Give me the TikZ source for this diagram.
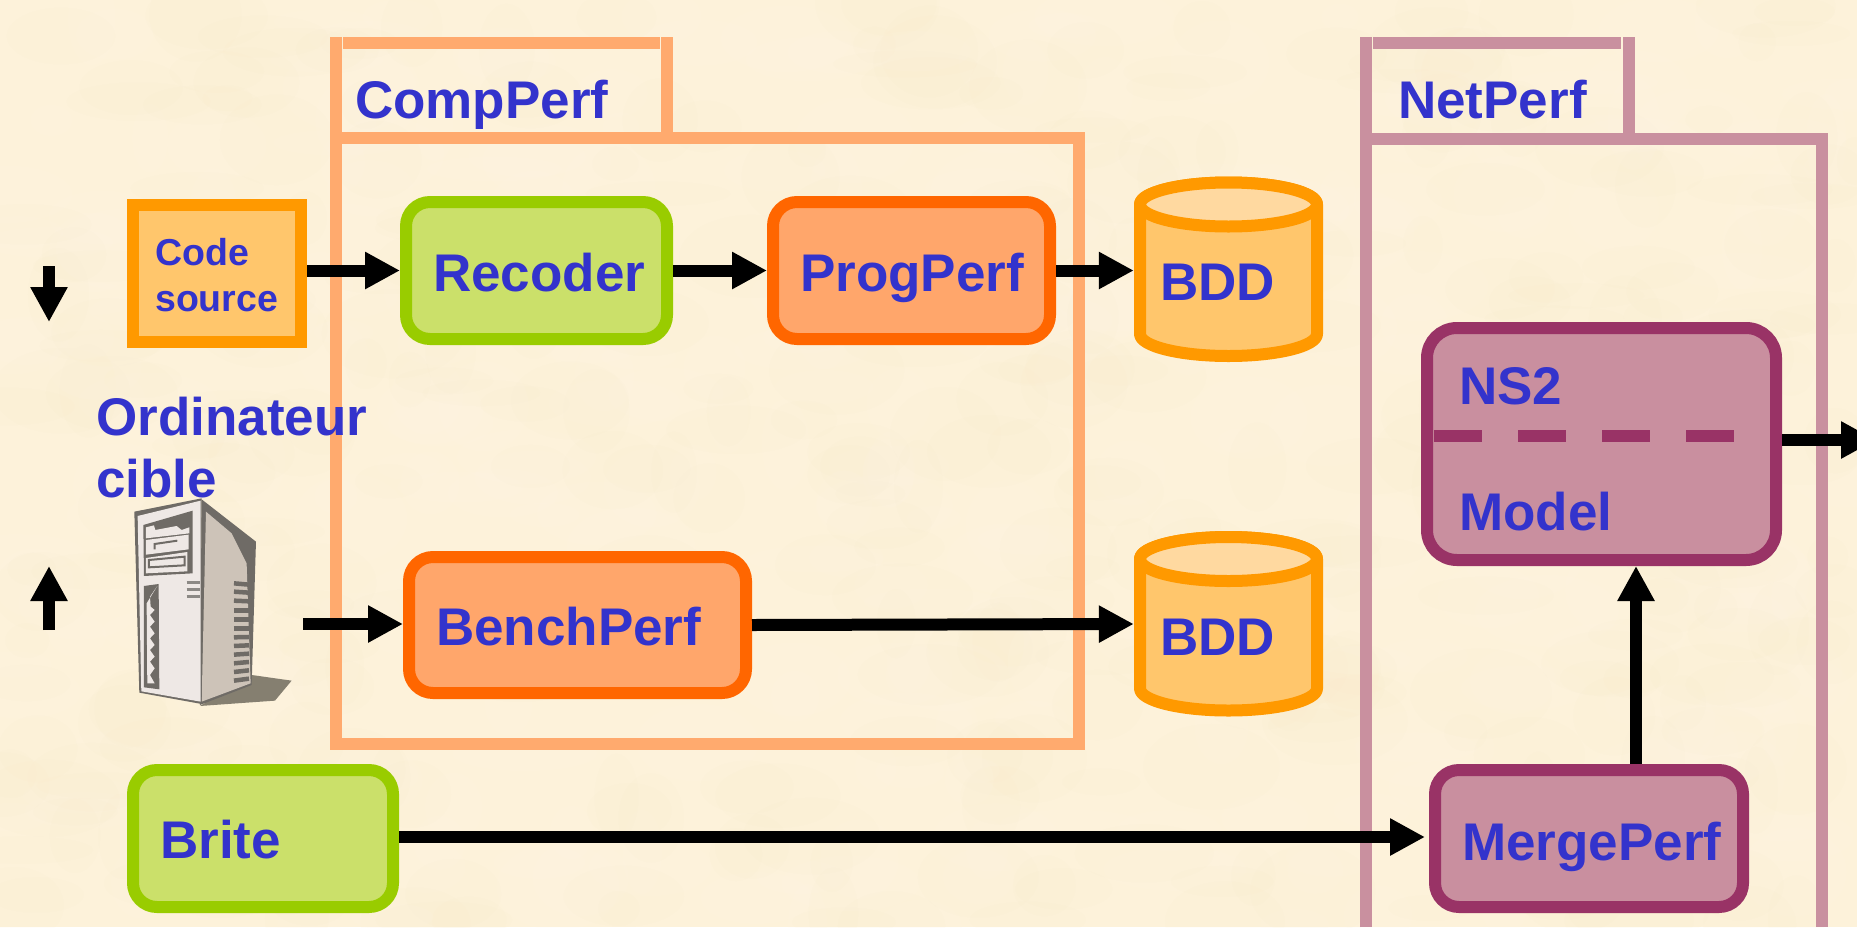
\documentclass[tikz,border=0pt]{standalone}
\usepackage{fontspec}
\setmainfont{Liberation Sans}
\usetikzlibrary{arrows.meta}
\definecolor{parch}{HTML}{FDF2DA}
\definecolor{parchA}{HTML}{FAEBC8}
\definecolor{parchB}{HTML}{FFF7E6}
\definecolor{labelblue}{HTML}{3333CC}
\definecolor{compline}{HTML}{FFAA6E}
\definecolor{netline}{HTML}{C9909F}
\definecolor{orangeedge}{HTML}{FF6600}
\definecolor{orangefill}{HTML}{FFA66B}
\definecolor{greenedge}{HTML}{99CC00}
\definecolor{greenfill}{HTML}{CBE06A}
\definecolor{goldedge}{HTML}{FF9900}
\definecolor{goldfill}{HTML}{FFC66C}
\definecolor{goldtop}{HTML}{FFD9A0}
\definecolor{plumedge}{HTML}{993366}
\definecolor{plumfill}{HTML}{C98F9F}
\definecolor{srvdark}{HTML}{6F6B66}
\definecolor{srvlight}{HTML}{EEE8E5}
\definecolor{srvside}{HTML}{CDC3B8}
\definecolor{srvshadow}{HTML}{857F70}
\tikzset{
  flow/.style={line width=12pt,-{Triangle[length=35pt,width=35pt]},black},
  boxbase/.style={draw,line width=12pt,inner sep=0pt,minimum width=#1},
  fbox/.style={rounded corners=24pt},
  lbl/.style={anchor=base west,inner sep=0pt,text=labelblue,font=\fontsize{53pt}{60pt}\selectfont\bfseries},
  lblsmall/.style={lbl,font=\fontsize{37.5pt}{44pt}\selectfont\bfseries},
  frame/.style={line width=12pt,line cap=butt},
  dbshape/.style={draw=goldedge,line width=12pt,fill=goldfill,line join=round},
  srvbar/.style={line width=4.5pt,srvdark},
  hold/.style={inner sep=0pt,minimum width=189pt,minimum height=185pt},
}
\newcommand{\dbdraw}[1]{%
  \begin{scope}[shift={(#1.center)}]
    \draw[dbshape] (-88.5,-65) -- (-88.5,64.5) arc[start angle=180,end angle=360,x radius=88.5pt,y radius=22pt] -- (88.5,-65) arc[start angle=0,end angle=180,x radius=88.5pt,y radius=22pt] -- cycle;
    \draw[dbshape,fill=goldtop] (0,-65) ellipse[x radius=88.5pt,y radius=22pt];
  \end{scope}}
\begin{document}
\begin{tikzpicture}[x=1pt,y=-1pt]
\useasboundingbox (0,0) rectangle (1857,927);
\begin{scope}
\clip (0,0) rectangle (1857,927);
\fill[parch] (0,0) rectangle (1857,927);
% mottled paper
\pgfmathsetseed{4242}
\foreach \i in {1,...,700}{
  \pgfmathsetmacro{\px}{rnd*1857}
  \pgfmathsetmacro{\py}{rnd*927}
  \pgfmathsetmacro{\ra}{18+rnd*55}
  \pgfmathsetmacro{\rb}{12+rnd*35}
  \pgfmathsetmacro{\pick}{rnd}
  \ifdim\pick pt>0.5pt
    \fill[parchA,opacity=.09] (\px,\py) ellipse[x radius=\ra pt,y radius=\rb pt];
  \else
    \fill[parchB,opacity=.12] (\px,\py) ellipse[x radius=\ra pt,y radius=\rb pt];
  \fi
}

% CompPerf package
\draw[frame,compline] (336,138) rectangle (1079,744);
\draw[frame,compline] (336,37) -- (336,132);
\draw[frame,compline] (343,43) -- (660,43);
\draw[frame,compline] (667,37) -- (667,132);
% NetPerf package
\draw[frame,netline] (1366,927) -- (1366,139) -- (1822,139) -- (1822,927);
\draw[frame,netline] (1366,37) -- (1366,133);
\draw[frame,netline] (1373,43) -- (1621,43);
\draw[frame,netline] (1629,37) -- (1629,133);

% Boxes
\node[boxbase=168pt,minimum height=137pt,draw=goldedge,fill=goldfill] (code) at (217,273.5) {};
\node[boxbase=261pt,minimum height=137pt,draw=greenedge,fill=greenfill,fbox] (recoder) at (536.5,270.5) {};
\node[boxbase=277pt,minimum height=137pt,draw=orangeedge,fill=orangefill,fbox] (progperf) at (911.5,270.5) {};
\node[boxbase=337pt,minimum height=136pt,draw=orangeedge,fill=orangefill,fbox] (bench) at (577.5,625) {};
\node[boxbase=260pt,minimum height=137pt,draw=greenedge,fill=greenfill,fbox] (brite) at (263,838.5) {};
\node[boxbase=308pt,minimum height=137pt,draw=plumedge,fill=plumfill,fbox] (merge) at (1589,838.5) {};
\node[boxbase=349pt,minimum height=232pt,draw=plumedge,fill=plumfill,rounded corners=30pt] (ns2) at (1601.5,444) {};
\node[hold] (bdd1) at (1228.5,269.5) {};
\node[hold] (bdd2) at (1228.5,624) {};
\dbdraw{bdd1}
\dbdraw{bdd2}

% NS2 / Model separator
\coordinate (dashL) at (1434,436);
\coordinate (dashR) at (1776,436);
\draw[plumedge,line width=12pt,dash pattern=on 48pt off 36pt] (dashL) -- (dashR);

% Server
\begin{scope}[shift={(0,450)},x=0.3333pt,y=-0.3333pt]
  \fill[srvshadow] (755,675) -- (875,692) -- (825,752) -- (600,768) -- cycle;
  \fill[srvdark] (605,148) -- (768,275) -- (755,705) -- (600,765) -- cycle;
  \fill[srvside] (618,185) -- (695,250) -- (740,340) -- (752,700) -- (605,755) -- cycle;
  \fill[srvdark] (403,185) -- (605,145) -- (605,762) -- (418,728) -- cycle;
  \fill[srvlight] (413,198) -- (602,152) -- (602,755) -- (424,724) -- cycle;
  % top panel
  \fill[srvdark] (430,225) -- (578,182) -- (578,370) -- (432,378) -- cycle;
  \fill[srvlight] (438,232) -- (462,226) -- (466,240) -- (530,228) -- (545,240) -- (568,232) -- (568,250) -- (438,265) -- cycle;
  \fill[srvlight] (438,270) -- (566,254) -- (566,298) -- (438,314) -- cycle;
  \fill[srvlight] (438,324) -- (562,306) -- (562,364) -- (438,370) -- cycle;
  \draw[srvdark,line width=2pt] (464,298) -- (464,282) -- (532,272);
  \draw[srvdark,line width=2pt] (447,352) -- (447,330) -- (554,320) -- (554,346) -- cycle;
  % lower bay
  \fill[srvdark] (432,408) -- (476,402) -- (478,718) -- (432,712) -- cycle;
  \fill[srvlight] (440,460) -- (472,408) -- (450,440) -- (452,470) -- (464,480) -- (450,495) -- (464,515) -- (450,530) -- (464,550) -- (450,565) -- (464,585) -- (450,600) -- (464,620) -- (450,635) -- (464,655) -- (450,675) -- (464,700) -- (442,700) -- cycle;
  % slots
  \foreach \yy in {398,418,440}{
    \draw[srvdark!80,line width=3pt] (560,\yy) -- (600,\yy);
  }
  % vents
  \foreach \yy/\dd in {400/4,425/3,452/2,482/0,509/0,536/0,562/-1,588/-2,614/-3,640/-4,666/-5,692/-6}{
    \draw[srvbar] (702,\yy) -- (747,\yy+\dd);
  }
\end{scope}

% Connectors
\coordinate (srvOut) at (303,624);
\coordinate (upTail) at (49,630);
\coordinate (upTip) at (49,566);
\coordinate (downTail) at (49,266);
\coordinate (downTip) at (49,322);
\coordinate (mergeUp) at (1636,700);
\coordinate (outEnd) at (1876,440);
\coordinate (brStart) at (399,837);
\coordinate (brEnd) at (1425,837);
\draw[flow] (code.east |- recoder.west) -- (recoder.west);
\draw[flow] (recoder.east) -- (progperf.west);
\draw[flow] (progperf.east) -- (bdd1.west |- progperf.east);
\draw[flow] (srvOut) -- (bench.west |- srvOut);
\draw[flow] (bench.east) -- (bdd2.west);
\draw[flow] (brStart) -- (brEnd);
\draw[flow] (mergeUp |- merge.north) -- (mergeUp |- ns2.south);
\draw[flow] (ns2.east |- outEnd) -- (outEnd);
\draw[flow] (upTail) -- (upTip);
\draw[flow] (downTail) -- (downTip);

% Labels
\node[lbl] (tComp) at (355,118) {CompPerf};
\node[lbl] (tNet) at (1398,118) {NetPerf};
\node[lblsmall] (tCode) at (155,265) {Code};
\node[lblsmall] (tSource) at (155,311) {source};
\node[lbl] (tRec) at (433,291) {Recoder};
\node[lbl] (tProg) at (800,291) {ProgPerf};
\node[lbl] (tBdd1) at (1160,300) {BDD};
\node[lbl] (tBdd2) at (1160,655) {BDD};
\node[lbl] (tBench) at (436,645) {BenchPerf};
\node[lbl] (tOrd) at (96,435) {Ordinateur};
\node[lbl] (tCible) at (96,497) {cible};
\node[lbl] (tNs) at (1459,404) {NS2};
\node[lbl] (tModel) at (1459,530) {Model};
\node[lbl] (tBrite) at (160,858) {Brite};
\node[lbl] (tMerge) at (1462,860) {MergePerf};
\end{scope}
\end{tikzpicture}
\end{document}
